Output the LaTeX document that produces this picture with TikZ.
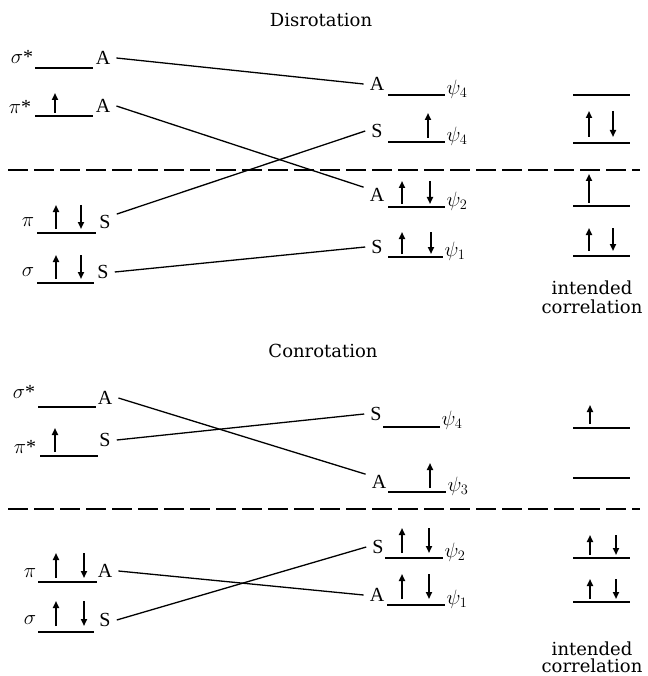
\documentclass[tikz,border=0pt]{standalone}
\usepackage{fontspec}
\setmainfont{Liberation Serif}
\newfontfamily\titlefont{DejaVu Serif}
\usetikzlibrary{arrows.meta}
\newcommand\eup[3]{\draw[spin] (#1,#3) -- (#1,#2);}
\newcommand\edn[3]{\draw[spin] (#1,#2) -- (#1,#3);}
\begin{document}
\begin{tikzpicture}[x=1pt,y=-1pt,
  lvl/.style={line width=1.8pt},
  conn/.style={line width=1.3pt},
  sepline/.style={line width=2.6pt, dash pattern=on 20pt off 6pt},
  spin/.style={line width=1.7pt,-{Triangle[length=7pt,width=6pt]}},
  sym/.style={font=\fontsize{20}{22}\selectfont, inner xsep=6pt, inner ysep=1pt},
  lab/.style={font=\fontsize{20}{22}\selectfont, inner sep=0pt},
  ttl/.style={font=\titlefont\fontsize{18}{21}\selectfont, inner sep=0pt}]
\useasboundingbox (0,0) rectangle (647,676);

% ---------------- Disrotation ----------------
\node[ttl, anchor=base] (t1) at (321,27) {Disrotation};

% left column
\node[lab] (a1) at (22,57) {$\sigma$*};
\draw[lvl] (35,68) -- (93,68);
\node[sym] (ls1) at (103,58) {A};

\node[lab] (a2) at (20,107) {$\pi$*};
\draw[lvl] (35,116) -- (93,116);
\eup{55}{93}{113}
\node[sym] (ls2) at (103,106) {A};

\node[lab] (a3) at (28,222) {$\pi$};
\draw[lvl] (37,233) -- (96,233);
\eup{56}{205}{229}
\edn{81}{205}{229}
\node[sym] (ls3) at (105,222) {S};

\node[lab] (a4) at (28,272) {$\sigma$};
\draw[lvl] (37,283) -- (94,283);
\eup{56}{255}{279}
\edn{81}{255}{279}
\node[sym] (ls4) at (103,272) {S};

% middle column
\node[sym] (ms1) at (377,84) {A};
\draw[lvl] (388,95) -- (445,95);
\node[lab] (p1) at (457,89) {$\psi_4$};

\node[sym] (ms2) at (377,131) {S};
\draw[lvl] (388,142) -- (445,142);
\eup{428}{113}{138}
\node[lab] (p2) at (457,136) {$\psi_4$};

\node[sym] (ms3) at (377,195) {A};
\draw[lvl] (388,207) -- (445,207);
\eup{402}{181}{204}
\edn{430}{181}{204}
\node[lab] (p3) at (457,201) {$\psi_2$};

\node[sym] (ms4) at (377,247) {S};
\draw[lvl] (388,257) -- (443,257);
\eup{402}{232}{254}
\edn{431}{232}{254}
\node[lab] (p4) at (455,251) {$\psi_1$};

% right column
\draw[lvl] (573,95) -- (630,95);
\draw[lvl] (573,143) -- (630,143);
\eup{589}{111}{137}
\edn{613}{111}{137}
\draw[lvl] (573,206) -- (630,206);
\eup{589}{174}{203}
\draw[lvl] (573,256) -- (630,256);
\eup{589}{228}{251}
\edn{613}{228}{251}
\node[ttl] (c1) at (592,288) {intended};
\node[ttl] (c2) at (592,307) {correlation};

\draw[sepline] (8,170) -- (640,170);

\draw[conn] (ls1.east) -- (ms1.west);
\draw[conn] (ls2.east) -- (ms3.north west);
\draw[conn] (ls3.north east) -- (ms2.west);
\draw[conn] (ls4.east) -- (ms4.west);

% ---------------- Conrotation ----------------
\node[ttl, anchor=base] (t2) at (323,357) {Conrotation};

% left column
\node[lab] (b1) at (24,392) {$\sigma$*};
\draw[lvl] (38,407) -- (96,407);
\node[sym] (lc1) at (105,398) {A};

\node[lab] (b2) at (25,447) {$\pi$*};
\draw[lvl] (40,456) -- (98,456);
\eup{55}{428}{452}
\node[sym] (lc2) at (105,440) {S};

\node[lab] (b3) at (30,573) {$\pi$};
\draw[lvl] (38,582) -- (97,582);
\eup{56}{553}{578}
\edn{84}{553}{578}
\node[sym] (lc3) at (105,571) {A};

\node[lab] (b4) at (30,620) {$\sigma$};
\draw[lvl] (38,632) -- (94,632);
\eup{56}{601}{626}
\edn{84}{601}{626}
\node[sym] (lc4) at (105,620) {S};

% middle column
\node[sym] (mc1) at (376,414) {S};
\draw[lvl] (383,427) -- (440,427);
\node[lab] (q1) at (452,420) {$\psi_4$};

\node[sym] (mc2) at (379,482) {A};
\draw[lvl] (388,492) -- (446,492);
\eup{430}{463}{488}
\node[lab] (q2) at (458,486) {$\psi_3$};

\node[sym] (mc3) at (378,547) {S};
\draw[lvl] (385,558) -- (443,558);
\eup{402}{528}{553}
\edn{429}{528}{553}
\node[lab] (q3) at (455,552) {$\psi_2$};

\node[sym] (mc4) at (377,595) {A};
\draw[lvl] (387,605) -- (445,605);
\eup{402}{574}{599}
\edn{429}{574}{599}
\node[lab] (q4) at (457,599) {$\psi_1$};

% right column
\draw[lvl] (573,428) -- (630,428);
\eup{590}{405}{424}
\draw[lvl] (573,478) -- (630,478);
\draw[lvl] (573,558) -- (630,558);
\eup{590}{535}{555}
\edn{616}{535}{555}
\draw[lvl] (573,602) -- (630,602);
\eup{590}{579}{599}
\edn{616}{579}{599}
\node[ttl] (c3) at (592,649) {intended};
\node[ttl] (c4) at (592,666) {correlation};

\draw[sepline] (8,509) -- (640,509);

\draw[conn] (lc1.east) -- (mc2.north west);
\draw[conn] (lc2.east) -- (mc1.west);
\draw[conn] (lc3.east) -- (mc4.west);
\draw[conn] (lc4.east) -- (mc3.west);
\end{tikzpicture}
\end{document}
